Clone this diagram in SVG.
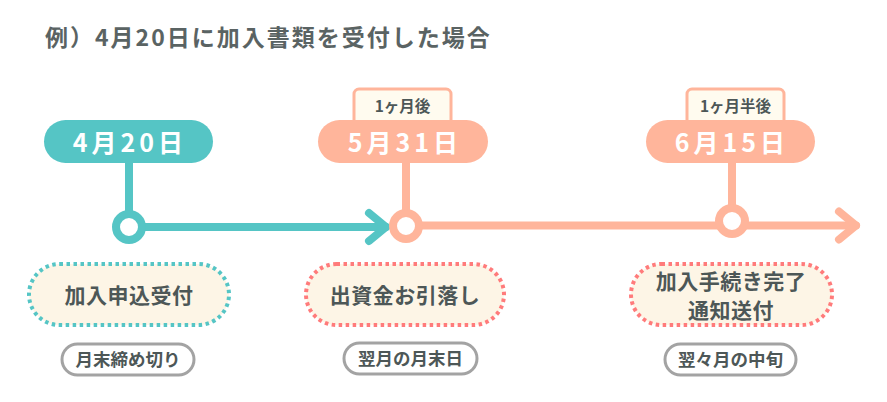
<svg xmlns="http://www.w3.org/2000/svg" width="887" height="402" viewBox="0 0 887 402">
<style>
text{font-family:"Noto Sans CJK JP","Noto Sans",sans-serif;font-weight:700;}
.title{font-size:23px;fill:#5a6363;letter-spacing:2px;}
.date{font-size:25px;fill:#ffffff;letter-spacing:4px;text-anchor:middle;}
.tab{font-size:15.5px;fill:#4d5757;text-anchor:middle;}
.box{font-size:21px;fill:#4d5757;text-anchor:middle;letter-spacing:0.5px;}
.sub{font-size:17.5px;fill:#4d5757;text-anchor:middle;}
.teal{stroke:#55c5c5;}
.salmon{stroke:#ffb59b;}
.line{stroke-width:8;fill:none;stroke-linecap:round;stroke-linejoin:round;}
.dot{fill:#fdf5e6;stroke-width:4;stroke-dasharray:3.5 3.5;}
.subpill{fill:#ffffff;stroke:#a3a3a3;stroke-width:3;}
.tabrect{fill:#fffbef;stroke:#ffb59b;stroke-width:3;}
</style>
<text class="title" x="45" y="46">例）4月20日に加入書類を受付した場合</text>
<g id="connectors">
<line class="line teal" x1="129" y1="160" x2="129" y2="214"/>
<line class="line teal" x1="142" y1="227" x2="386" y2="227"/>
<polyline class="line teal" points="369,213 386,227 369,241"/>
<line class="line salmon" x1="406" y1="160" x2="406" y2="213"/>
<line class="line salmon" x1="419" y1="225.5" x2="856" y2="225.5"/>
<polyline class="line salmon" points="839,211.5 856,225.5 839,239.5"/>
<line class="line salmon" x1="732" y1="160" x2="732" y2="208"/>
</g>
<g id="node-apr20">
<rect x="44" y="120" width="169" height="43" rx="21.5" fill="#55c5c5"/>
<text class="date" x="130" y="152">4月20日</text>
<circle cx="129" cy="227" r="13" fill="#ffffff" stroke="#55c5c5" stroke-width="8"/>
</g>
<g id="node-may31">
<rect class="tabrect" x="354" y="89" width="97" height="40" rx="5"/>
<text class="tab" x="402.5" y="112">1ヶ月後</text>
<rect x="318" y="120" width="170" height="43" rx="21.5" fill="#ffb59b"/>
<text class="date" x="405" y="152">5月31日</text>
<circle cx="406" cy="226" r="13" fill="#ffffff" stroke="#ffb59b" stroke-width="8"/>
</g>
<g id="node-jun15">
<rect class="tabrect" x="687" y="89" width="97" height="40" rx="5"/>
<text class="tab" x="735.5" y="112">1ヶ月半後</text>
<rect x="646" y="120" width="169" height="43" rx="21.5" fill="#ffb59b"/>
<text class="date" x="732" y="152">6月15日</text>
<circle cx="732" cy="221" r="13" fill="#ffffff" stroke="#ffb59b" stroke-width="8"/>
</g>
<g id="box-apply">
<rect class="dot" x="29" y="264" width="200" height="61" rx="30.5" stroke="#55c5c5"/>
<text class="box" x="129" y="303">加入申込受付</text>
</g>
<g id="box-debit">
<rect class="dot" x="306" y="264" width="198" height="61" rx="30.5" stroke="#ff7b7b"/>
<text class="box" x="405" y="303">出資金お引落し</text>
</g>
<g id="box-complete">
<rect class="dot" x="631" y="264" width="201" height="61" rx="30.5" stroke="#ff7b7b"/>
<text class="box" x="731" y="289">加入手続き完了</text>
<text class="box" x="731" y="318">通知送付</text>
</g>
<g id="sub-1">
<rect class="subpill" x="62" y="344" width="132" height="31" rx="15.5"/>
<text class="sub" x="128" y="366">月末締め切り</text>
</g>
<g id="sub-2">
<rect class="subpill" x="344" y="343" width="133" height="31" rx="15.5"/>
<text class="sub" x="410.5" y="365">翌月の月末日</text>
</g>
<g id="sub-3">
<rect class="subpill" x="665" y="344" width="131" height="31" rx="15.5"/>
<text class="sub" x="730.5" y="366">翌々月の中旬</text>
</g>
</svg>
